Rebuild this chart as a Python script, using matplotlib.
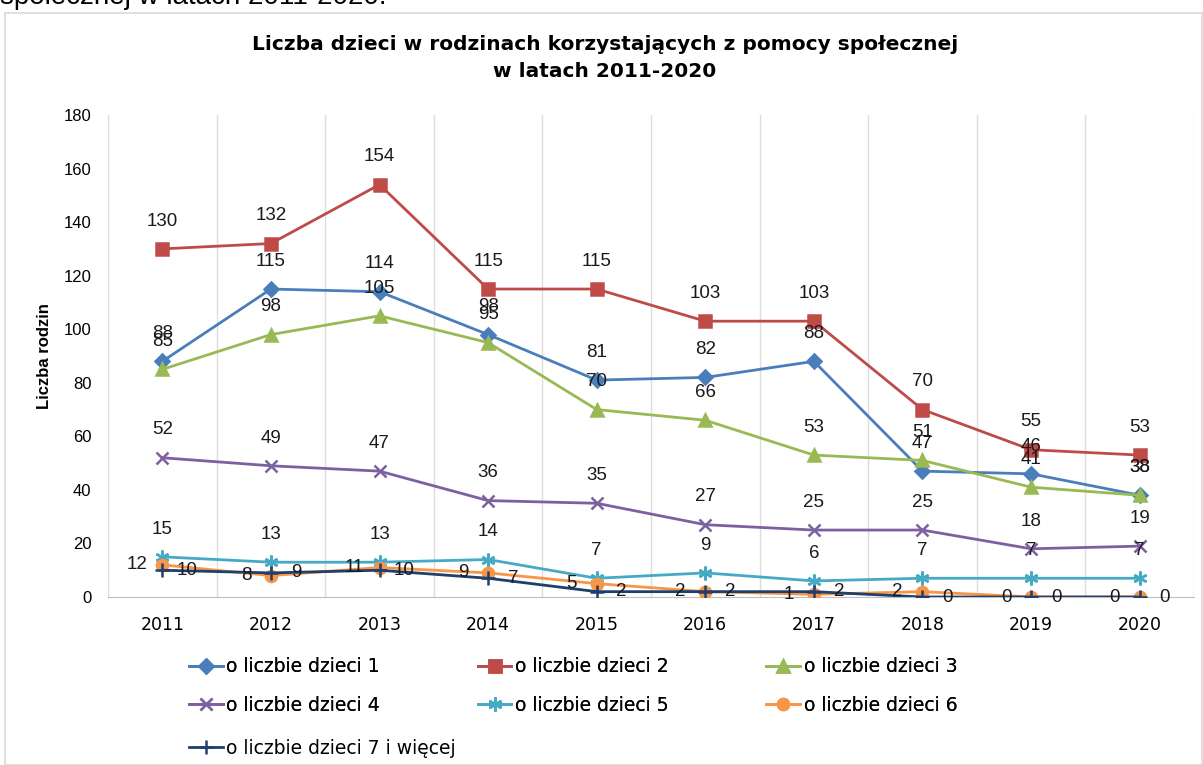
import matplotlib.pyplot as plt
from matplotlib.patches import Rectangle

plt.rcParams['font.family'] = ['Liberation Sans', 'DejaVu Sans']

years = ['2011', '2012', '2013', '2014', '2015', '2016', '2017', '2018', '2019', '2020']
dzieci_1 = [88, 115, 114, 98, 81, 82, 88, 47, 46, 38]
dzieci_2 = [130, 132, 154, 115, 115, 103, 103, 70, 55, 53]
dzieci_3 = [85, 98, 105, 95, 70, 66, 53, 51, 41, 38]
dzieci_4 = [52, 49, 47, 36, 35, 27, 25, 25, 18, 19]
dzieci_5 = [15, 13, 13, 14, 7, 9, 6, 7, 7, 7]
dzieci_6 = [12, 8, 11, 9, 5, 2, 1, 2, 0, 0]
dzieci_7 = [10, 9, 10, 7, 2, 2, 2, 0, 0, 0]

series = [
    ('o liczbie dzieci 1', dzieci_1, '#4A7EBB', 'D', 7, 'above'),
    ('o liczbie dzieci 2', dzieci_2, '#BE4B48', 's', 8, 'above'),
    ('o liczbie dzieci 3', dzieci_3, '#98B954', '^', 9, 'above'),
    ('o liczbie dzieci 4', dzieci_4, '#7D60A0', 'x', 8, 'above'),
    ('o liczbie dzieci 5', dzieci_5, '#46AAC5', (6, 2, 0), 10, 'above'),
    ('o liczbie dzieci 6', dzieci_6, '#F79646', 'o', 8, 'left'),
    ('o liczbie dzieci 7 i więcej', dzieci_7, '#1F3F6E', '+', 10, 'right'),
]

fig = plt.figure(figsize=(12.03, 7.65), dpi=100)
ax = fig.add_axes([0.0898, 0.2196, 0.9027, 0.6301])

x = list(range(len(years)))
lines = []
for name, vals, col, mk, ms, pos in series:
    ln, = ax.plot(x, vals, color=col, lw=2, marker=mk, ms=ms, mew=1.8,
                  mfc=col, mec=col, label=name, zorder=3)
    lines.append(ln)
    for xi, v in zip(x, vals):
        if pos == 'above':
            off = (0, 20)
        elif pos == 'left':
            off = (-18, 0)
        else:
            off = (18, 0)
        ax.annotate(str(v), (xi, v), xytext=off, textcoords='offset points',
                    ha='center', va='center', fontsize=13.5, color='#1a1a1a', zorder=4)

ax.set_xlim(-0.5, 9.5)
ax.set_ylim(0, 180)
ax.set_yticks(range(0, 181, 20))
ax.set_xticks(x)
ax.set_xticklabels(years, family='DejaVu Sans')
ax.set_xticks([i + 0.5 for i in range(-1, 10)], minor=True)
ax.grid(True, which='minor', axis='x', color='#DDDDDD', lw=1)
ax.tick_params(which='both', length=0)
ax.tick_params(axis='y', labelsize=12, pad=12)
ax.tick_params(axis='x', labelsize=12.5, pad=14)
for s in ['top', 'right', 'left']:
    ax.spines[s].set_visible(False)
ax.spines['bottom'].set_color('#BFBFBF')
ax.set_ylabel('Liczba rodzin', fontsize=12, fontweight='bold', labelpad=8)

fig.text(0.503, 0.954, 'Liczba dzieci w rodzinach korzystających z pomocy społecznej\nw latach 2011-2020',
         ha='center', va='top', fontsize=14.5, fontweight='bold', family='DejaVu Sans',
         linespacing=1.5)

fig.patches.append(Rectangle((5 / 1203, 0), 1 - 6 / 1203, 1 - 13 / 765,
                             transform=fig.transFigure, fill=False,
                             edgecolor='#D9D9D9', lw=1.2))
fig.text(0.0, 1 - 4 / 765, 'społecznej w latach 2011-2020.', ha='left',
         va='baseline', fontsize=20)

# legend is filled column by column, so order the handles for row-wise reading
leg_font = {'family': 'DejaVu Sans', 'size': 13.5}
order = [0, 3, 1, 4, 2, 5]
leg1 = fig.legend(handles=[lines[i] for i in order], loc='upper left',
                  bbox_to_anchor=(0.143, 0.163), ncol=3, frameon=False, prop=leg_font,
                  handlelength=1.8, handletextpad=0.2, columnspacing=5.2,
                  labelspacing=1.05)
fig.legend(handles=lines[6:], loc='upper left', bbox_to_anchor=(0.143, 0.163 - 0.107),
           ncol=1, frameon=False, prop=leg_font, handlelength=1.8, handletextpad=0.2)
fig.add_artist(leg1)

fig.savefig('out.png', dpi=100)
